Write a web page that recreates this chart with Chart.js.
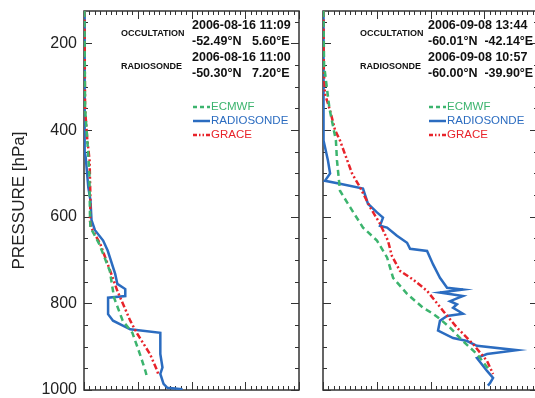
<!DOCTYPE html>
<html><head><meta charset="utf-8">
<script src="https://cdn.jsdelivr.net/npm/chart.js@4/dist/chart.umd.min.js"></script>
<style>
html,body{margin:0;padding:0;background:#fff;overflow:hidden;width:535px;height:398px;}
#wrap{position:relative;width:535px;height:398px;overflow:hidden;}
canvas{position:absolute;top:0;}
</style></head><body>
<div id="wrap">
<canvas id="c1" width="305" height="398" style="left:0px"></canvas>
<canvas id="c2" width="240" height="398" style="left:305px"></canvas>
</div>
<script>
// ---------- data ----------
const pressureTicks = [200, 400, 600, 800, 1000];
const seriesNames = ['ECMWF', 'RADIOSONDE', 'GRACE'];

// Left panel (2006-08-16)
const leftEcmwfP = [125, 350, 420, 500, 600, 625, 662, 725, 787, 840, 868, 917, 955, 970];
const leftEcmwfX = [0.2, 0.5, 1.5, 2.5, 2.8, 3.0, 7.0, 12.0, 14.0, 18.0, 22.5, 26.0, 28.5, 29.3];
const leftRadioP = [125, 300, 450, 463, 532, 562, 608, 631, 655, 678, 732, 755, 767, 783, 787, 825, 840, 860, 868, 917, 948, 963, 986, 995, 998];
const leftRadioX = [0.2, 0.2, 0.4, 0.8, 2.0, 3.0, 3.5, 5.1, 8.9, 11.0, 14.5, 15.5, 19.2, 19.2, 11.2, 11.2, 13.5, 21.5, 35.5, 35.5, 36.5, 35.5, 37.0, 38.8, 45.8];
const leftGraceP = [125, 350, 420, 470, 562, 610, 625, 662, 725, 771, 840, 868, 917, 955, 963];
const leftGraceX = [0.2, 0.5, 1.5, 2.6, 3.0, 2.8, 3.3, 7.5, 12.2, 15.5, 21.5, 24.5, 30.7, 34.0, 34.5];

// Right panel (2006-09-08)
const rightEcmwfP = [125, 250, 350, 424, 470, 540, 578, 625, 655, 694, 741, 778, 810, 824, 836, 856, 887, 917, 956];
const rightEcmwfX = [0.2, 0.5, 3.0, 6.0, 6.5, 7.9, 12.6, 18.6, 25.1, 29.8, 32.6, 39.1, 46.5, 51.2, 54.4, 59.1, 65.1, 71.6, 77.7];
const rightRadioP = [125, 300, 424, 470, 500, 517, 524, 535, 570, 590, 602, 621, 625, 644, 660, 674, 679, 710, 741, 764, 768, 775, 783, 795, 802, 810, 824, 829, 840, 863, 880, 887, 898, 908, 917, 926, 956, 972, 984, 990];
const rightRadioX = [0.2, 0.2, 0.3, 2.3, 3.3, 0.9, 7.9, 18.6, 20.9, 25.1, 27.9, 26.5, 29.8, 34.4, 39.1, 40.5, 48.4, 51.2, 54.4, 57.7, 65.1, 54.4, 65.1, 59.1, 62.3, 60.5, 65.1, 57.7, 54.4, 53.5, 60.5, 67.0, 71.6, 90.2, 76.3, 71.6, 76.3, 79.1, 77.7, 76.7];
const rightGraceP = [125, 250, 316, 355, 400, 424, 500, 532, 578, 616, 655, 690, 725, 745, 771, 817, 856, 894, 933, 963];
const rightGraceX = [0.2, 0.3, 0.9, 3.3, 5.6, 7.9, 13.5, 17.2, 21.9, 26.5, 30.2, 32.0, 35.8, 41.9, 48.4, 55.8, 62.3, 69.8, 76.3, 79.1];

// Annotation texts
const leftInfo = ['OCCULTATION', '2006-08-16 11:09', '-52.49°N   5.60°E', 'RADIOSONDE', '2006-08-16 11:00', '-50.30°N   7.20°E'];
const rightInfo = ['OCCULTATION', '2006-09-08 13:44', '-60.01°N  -42.14°E', 'RADIOSONDE', '2006-09-08 10:57', '-60.00°N  -39.90°E'];

// ---------- styles ----------
const COLORS = {ECMWF: '#3cb46e', RADIOSONDE: '#2b6cc0', GRACE: '#e8232a'};
const DASH = {ECMWF: [6, 4], RADIOSONDE: [], GRACE: [6, 2.5, 2, 2.5, 2, 2.5]};
const LEGDASH = {ECMWF: [4, 3], RADIOSONDE: [], GRACE: [4, 2, 1.5, 2, 1.5, 2]};
const FONT = '"Liberation Sans", Arial, Helvetica, sans-serif';

function pts(P, X) { return P.map((p, i) => ({x: X[i], y: p})); }
function ds(name, P, X) {
  return {label: name, data: pts(P, X), showLine: true, borderColor: COLORS[name], backgroundColor: COLORS[name],
    borderWidth: 2.5, borderDash: DASH[name], pointRadius: 0, tension: 0, fill: false};
}

const framePlugin = {
  id: 'frame',
  beforeDatasetsDraw(chart) {
    const {ctx, chartArea: a, scales: {x, y}} = chart;
    ctx.save();
    ctx.strokeStyle = '#333';
    ctx.lineWidth = 1.5;
    ctx.strokeRect(a.left, a.top, a.right - a.left, a.bottom - a.top);
    ctx.lineWidth = 1;
    const seg = (x1, y1, x2, y2) => { ctx.beginPath(); ctx.moveTo(x1, y1); ctx.lineTo(x2, y2); ctx.stroke(); };
    for (let i = 0; i <= 40; i++) {
      const v = i * 2.5;
      const px = Math.round(x.getPixelForValue(v)) + 0.5;
      const L = (i % 10 === 0) ? 8 : 4;
      seg(px, a.bottom, px, a.bottom - L);
      seg(px, a.top, px, a.top + L);
    }
    for (let p = 150; p <= 1000; p += 50) {
      const py = Math.round(y.getPixelForValue(p)) + 0.5;
      const L = (p % 200 === 0) ? 8 : 4;
      seg(a.left, py, a.left + L, py);
      seg(a.right, py, a.right - L, py);
    }
    ctx.restore();
  }
};

const annotPlugin = {
  id: 'annot',
  afterDatasetsDraw(chart, args, opts) {
    const {ctx, chartArea: a} = chart;
    const info = opts.info;
    ctx.save();
    ctx.fillStyle = '#111';
    ctx.textBaseline = 'middle';
    ctx.font = 'bold 9px ' + FONT;
    ctx.textAlign = 'left';
    ctx.fillText(info[0], a.left + 37, 34);
    ctx.fillText(info[3], a.left + 37, 67);
    ctx.font = 'bold 12.5px ' + FONT;
    const tx = a.left + opts.textX;
    ctx.fillText(info[1], tx, 26);
    ctx.fillText(info[2], tx, 42);
    ctx.fillText(info[4], tx, 58);
    ctx.fillText(info[5], tx, 74);
    // legend
    const ys = [107, 121, 135];
    ctx.font = '11.5px ' + FONT;
    seriesNames.forEach((n, i) => {
      const lx = tx + 1, ly = ys[i];
      ctx.strokeStyle = COLORS[n];
      ctx.lineWidth = 2.5;
      ctx.setLineDash(LEGDASH[n]);
      ctx.beginPath(); ctx.moveTo(lx, ly); ctx.lineTo(lx + 17, ly); ctx.stroke();
      ctx.setLineDash([]);
      ctx.fillStyle = COLORS[n];
      ctx.fillText(n, lx + 18, ly);
    });
    ctx.restore();
  }
};

function makeChart(id, datasets, info, isLeft) {
  return new Chart(document.getElementById(id), {
    type: 'scatter',
    data: {datasets},
    plugins: [framePlugin, annotPlugin],
    options: {
      responsive: false,
      animation: false,
      layout: {padding: isLeft ? {left: 0, right: 6, top: 11, bottom: 8} : {left: 18, right: 7, top: 11, bottom: 8}},
      plugins: {
        legend: {display: false},
        tooltip: {enabled: false},
        annot: {info, textX: isLeft ? 108 : 105}
      },
      scales: {
        x: {type: 'linear', min: 0, max: 100, display: false},
        y: {
          type: 'linear', reverse: true, min: 125, max: 1000,
          display: isLeft,
          afterFit: s => {
            if (isLeft) s.width = 84; else s.width = 0;
            s.paddingTop = 0; s.paddingBottom = 0;
          },
          afterBuildTicks: s => { s.ticks = pressureTicks.map(v => ({value: v})); },
          grid: {display: false, drawTicks: false},
          border: {display: false},
          ticks: {color: '#222', font: {size: 16, family: FONT}, padding: 7, callback: v => String(v)},
          title: {display: true, text: 'PRESSURE [hPa]', color: '#222', font: {size: 17, family: FONT}, padding: {top: 9, bottom: 0}}
        }
      }
    }
  });
}

makeChart('c1', [
  ds('ECMWF', leftEcmwfP, leftEcmwfX),
  ds('GRACE', leftGraceP, leftGraceX),
  ds('RADIOSONDE', leftRadioP, leftRadioX)
], leftInfo, true);
makeChart('c2', [
  ds('ECMWF', rightEcmwfP, rightEcmwfX),
  ds('GRACE', rightGraceP, rightGraceX),
  ds('RADIOSONDE', rightRadioP, rightRadioX)
], rightInfo, false);
</script>
</body></html>
